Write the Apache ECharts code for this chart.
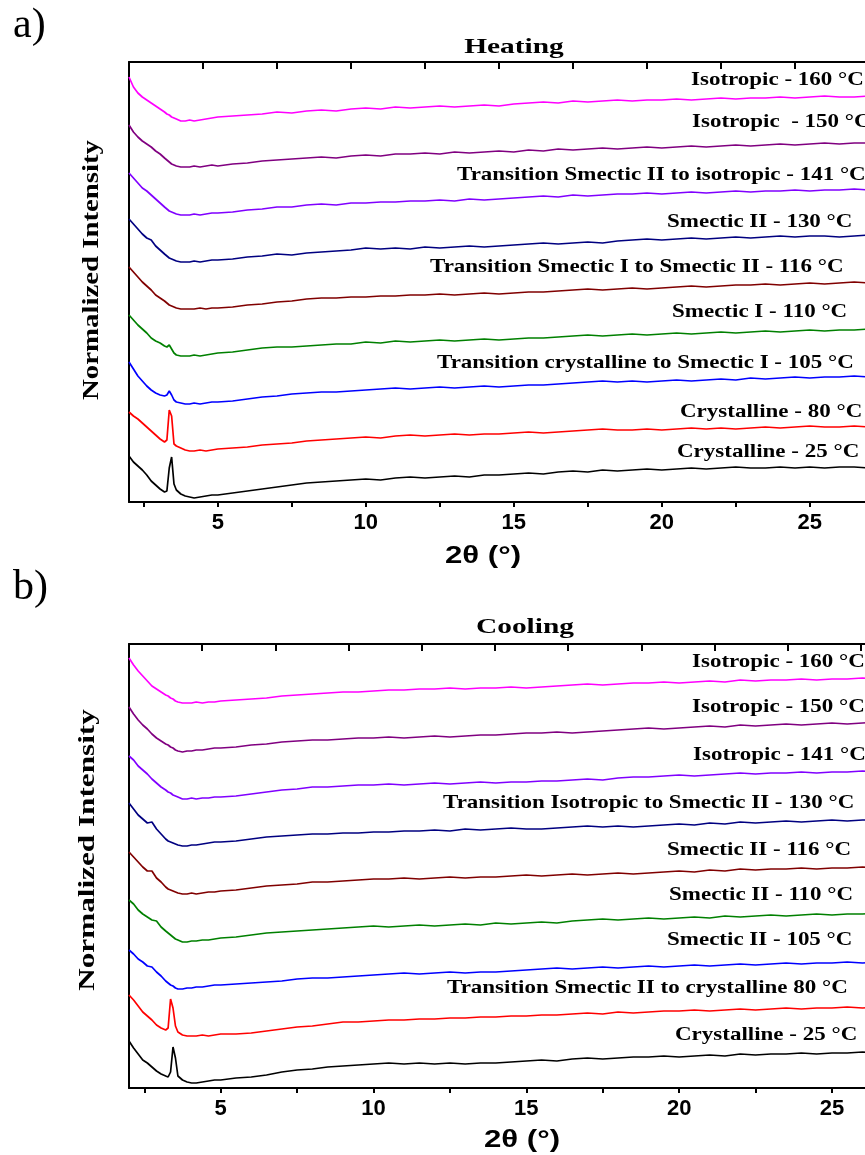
<!DOCTYPE html>
<html>
<head>
<meta charset="utf-8">
<script src="https://cdn.jsdelivr.net/npm/echarts@6/dist/echarts.min.js"></script>
<style>
html,body{margin:0;padding:0;background:#fff;overflow:hidden;width:865px;height:1155px;}
#chart{width:1000px;height:1155px;}
</style>
</head>
<body>
<div id="chart"></div>
<script>
// 2θ positions (°) shared by all patterns
const xs = [2.0,2.15,2.3,2.45,2.6,2.75,2.9,3.05,3.2,3.28,3.36,3.44,3.52,3.6,3.75,3.9,4.05,4.2,4.4,4.6,4.8,5.0,
  5.5,6,6.5,7,7.5,8,8.5,9,9.5,10,10.5,11,11.5,12,12.5,13,13.5,14,14.5,15,15.5,16,16.5,17,17.5,18,18.5,19,19.5,20,
  20.5,21,21.5,22,22.5,23,23.5,24,24.5,25,25.5,26,26.5,27,27.5];

// Heating: normalized intensity (stacked with offsets, arbitrary units)
const heat160 = [425,415,409,405,402,399,396,393,390,388,387,385,384,383,381,381,382,381,382,383,384,385,
  386,387,388,390,389,391,392,391,393,394,393,395,394,395,396,395,396,397,396,398,399,400,399,401,400,401,402,401,402,402,
  403,402,403,404,403,404,404,405,404,405,406,405,405,406,406];
const heat150 = [377,370,365,361,358,355,351,348,344,342,340,338,337,336,335,335,335,336,335,336,337,336,
  338,339,341,342,343,344,345,344,346,347,346,348,348,349,348,350,349,350,351,350,352,351,353,352,353,354,353,354,355,354,
  355,356,355,356,357,356,357,358,357,358,359,358,359,359,360];
const heat141 = [329,324,319,314,311,307,303,299,295,293,291,290,289,288,287,287,287,288,287,288,289,289,
  290,292,293,295,295,297,298,297,299,299,300,300,301,301,302,301,303,302,303,304,305,306,305,307,306,307,308,308,309,308,
  309,310,309,310,311,310,311,311,312,311,312,312,313,312,313];
const heat130 = [283,278,273,268,264,262,256,252,248,246,244,243,242,241,240,240,240,241,240,241,242,242,
  243,245,246,248,247,249,250,251,252,254,253,254,253,255,254,255,256,255,256,257,258,259,258,259,260,259,261,262,263,262,
  263,264,263,264,265,264,265,266,265,266,266,265,266,267,266];
const heat116 = [235,230,225,220,216,212,207,204,201,199,197,196,195,194,193,193,193,193,194,193,194,194,
  195,197,198,200,201,203,204,204,205,205,206,206,207,207,208,207,208,209,208,209,210,210,211,212,213,212,213,214,213,214,
  215,216,215,216,217,217,218,217,218,219,218,219,220,219,220];
const heat110 = [187,182,177,173,169,164,161,159,156,155,157,153,149,147,146,146,146,147,146,147,148,149,
  150,152,154,155,155,156,157,158,158,160,159,161,160,161,162,161,162,163,162,163,164,164,165,166,167,166,167,168,167,168,
  169,168,169,170,169,170,171,170,171,172,171,172,172,173,172];
const heat105 = [140,133,126,121,116,112,109,107,106,107,111,107,102,100,99,98,98,99,98,99,100,100,
  101,103,105,106,108,109,110,110,111,112,113,114,113,114,115,114,115,116,115,116,117,117,118,119,120,121,120,121,120,121,
  122,121,122,123,122,124,123,124,125,124,125,125,126,125,126];
const heat80 = [90,86,83,79,75,71,67,63,60,62,92,86,58,56,54,52,51,51,52,51,52,53,
  54,55,57,58,59,61,62,63,64,65,64,66,67,66,67,68,67,68,68,69,70,69,70,71,72,73,72,72,73,72,
  73,74,73,74,73,74,75,74,75,76,75,75,76,75,76];
const heat25 = [46,40,36,32,27,21,17,13,10,11,34,45,18,12,8,6,5,4,5,6,7,7,
  9,11,13,15,17,19,20,21,22,23,22,24,25,24,25,26,25,27,27,28,29,28,30,31,30,32,31,32,33,32,
  33,34,33,34,35,34,34,35,34,35,34,35,35,34,35];

// Cooling
const cool160 = [430,423,417,412,407,402,399,396,393,392,390,389,387,386,385,385,385,386,385,386,386,387,
  388,389,390,392,393,394,395,396,396,397,398,398,399,399,400,399,400,400,401,400,401,402,403,404,403,404,405,405,406,405,
  406,407,406,408,407,408,408,409,408,409,409,410,409,410,410];
const cool150 = [381,374,368,363,359,354,350,347,344,343,341,340,338,337,336,337,337,338,338,339,340,340,
  341,343,344,346,347,348,348,349,350,350,351,350,351,352,351,352,353,353,354,355,355,356,355,356,357,358,359,360,359,360,
  361,362,361,363,362,363,364,363,364,365,364,365,366,365,366];
const cool141 = [332,328,322,318,314,309,305,301,298,296,295,293,292,291,289,289,290,289,290,290,291,291,
  292,294,296,298,299,301,301,302,303,303,304,303,304,305,304,305,306,305,306,306,307,307,308,309,308,310,311,311,312,313,
  312,313,314,315,314,315,315,316,315,316,316,317,316,317,317];
const cool130 = [285,279,273,269,265,266,259,254,249,247,246,245,244,243,242,242,243,243,244,245,246,246,
  247,249,251,252,253,254,254,255,255,256,256,257,257,258,257,259,258,259,260,259,259,260,261,262,261,262,261,262,263,264,
  263,265,264,266,265,266,267,266,267,268,267,268,268,269,268];
const cool116 = [236,231,226,221,217,217,210,206,201,199,198,197,196,195,194,194,195,194,195,196,196,197,
  198,200,202,203,204,206,206,207,208,209,209,210,209,210,211,210,211,211,212,213,212,213,214,213,214,215,214,215,216,217,
  216,218,217,219,218,219,219,220,219,220,220,221,220,221,221];
const cool110 = [188,184,178,174,171,168,167,161,157,155,153,151,149,148,146,146,147,147,148,148,149,150,
  151,153,155,156,157,158,159,160,161,162,161,162,163,162,163,164,163,165,164,165,166,165,167,168,169,168,169,170,169,170,
  171,170,172,171,172,173,172,173,174,173,174,174,175,174,175];
const cool105 = [138,134,129,126,122,121,116,112,107,105,103,102,100,99,99,100,100,101,101,102,103,103,
  104,105,106,107,109,110,110,111,112,113,114,115,114,115,116,115,116,116,117,118,119,120,119,120,121,120,121,122,121,122,
  123,122,123,124,123,124,125,124,125,125,126,125,126,126,127];
const cool80 = [93,88,82,76,72,68,63,60,58,60,89,80,62,56,53,52,52,52,53,52,53,54,
  54,55,57,59,61,62,64,66,66,67,68,68,69,69,70,70,71,71,72,72,73,73,74,75,74,76,75,76,77,77,
  78,77,78,79,78,79,80,79,80,80,81,80,81,80,81];
const cool25 = [47,40,34,28,25,21,17,14,12,11,16,41,30,12,8,6,5,5,6,7,8,8,
  10,11,13,16,18,19,21,22,23,24,25,24,25,24,25,24,25,25,26,27,28,27,29,30,29,30,31,31,32,31,
  32,33,32,34,33,34,34,35,34,35,35,36,35,36,36];

const heatingLabels = ['Isotropic - 160 °C','Isotropic  - 150 °C','Transition Smectic II to isotropic - 141 °C',
  'Smectic II - 130 °C','Transition Smectic I to Smectic II - 116 °C','Smectic I - 110 °C',
  'Transition crystalline to Smectic I - 105 °C','Crystalline - 80 °C','Crystalline - 25 °C'];
const coolingLabels = ['Isotropic - 160 °C','Isotropic - 150 °C','Isotropic - 141 °C',
  'Transition Isotropic to Smectic II - 130 °C','Smectic II - 116 °C','Smectic II - 110 °C',
  'Smectic II - 105 °C','Transition Smectic II to crystalline 80 °C','Crystalline - 25 °C'];
const colors = ['#ff00ff','#800080','#8000ff','#000080','#800000','#008000','#0000ff','#ff0000','#000000'];

const bottomTicks = [2.5,5,7.5,10,12.5,15,17.5,20,22.5,25,27.5,30];
const bottomLabels = [5,10,15,20,25,30];
const topTicks = [4.5,7,9.5,12,14.5,17,19.5,22,24.5,27,29.5];

const heating = [heat160,heat150,heat141,heat130,heat116,heat110,heat105,heat80,heat25];
const cooling = [cool160,cool150,cool141,cool130,cool116,cool110,cool105,cool80,cool25];

// ---- layout (pixels) ----
const layout = {
  grids: [{left:129, top:62, width:828.8, height:440},{left:129, top:644, width:865.2, height:444}],
  yMax: [440, 444],
  topMax: [30, 2 + 865.2/29.6],
  heatLabelPos: [[691,80],[692,122],[457,175],[667,222],[430,267],[672,312],[437,363],[680,412],[677,452]],
  coolLabelPos: [[692,662],[692,707],[693,755],[443,803],[667,850],[669,895],[667,940],[447,988],[675,1035]]
};

const chart = echarts.init(document.getElementById('chart'), null, {renderer:'canvas'});
const axisLine = {show:true, onZero:false, lineStyle:{color:'#000', width:2}};
const xAxes = [], yAxes = [];
for (let g = 0; g < 2; g++) {
  xAxes.push({gridIndex:g, type:'value', position:'bottom', min:2, max:30,
    axisLine, axisTick:{show:true, customValues:bottomTicks, length:5, lineStyle:{color:'#000', width:2}},
    axisLabel:{show:true, customValues:bottomLabels, color:'#000', fontSize:22, fontWeight:'bold', fontFamily:'Liberation Sans', margin:10},
    splitLine:{show:false}});
  xAxes.push({gridIndex:g, type:'value', position:'top', min:2, max:layout.topMax[g],
    axisLine, axisTick:{show:true, inside:true, customValues:topTicks, length:7, lineStyle:{color:'#000', width:2}},
    axisLabel:{show:false}, splitLine:{show:false}});
  yAxes.push({gridIndex:g, type:'value', min:0, max:layout.yMax[g],
    axisLine, axisTick:{show:false}, axisLabel:{show:false}, splitLine:{show:false}});
}
const series = [];
[heating, cooling].forEach((set, g) => {
  set.forEach((arr, i) => {
    series.push({type:'line', xAxisIndex:g*2, yAxisIndex:g, showSymbol:false, symbol:'none', silent:true,
      lineStyle:{color:colors[i], width:1.7}, data: xs.map((x, k) => [x, arr[k]])});
  });
});

const serif = 'Liberation Serif';
function txt(x, y, text, size, opts) {
  opts = opts || {};
  return {type:'text', x:x, y:y, rotation:opts.rotation||0, scaleX:opts.scaleX||1, silent:true,
    style:{text:text, fill:'#000', font:(opts.weight||'bold') + ' ' + size + 'px "' + (opts.family||serif) + '"',
      textAlign:opts.align||'left', textVerticalAlign:'middle', align:opts.align||'left', verticalAlign:'middle'}};
}
const graphics = [];
heatingLabels.forEach((t, i) => graphics.push(txt(layout.heatLabelPos[i][0], layout.heatLabelPos[i][1], t, 19, {scaleX:1.21})));
coolingLabels.forEach((t, i) => graphics.push(txt(layout.coolLabelPos[i][0], layout.coolLabelPos[i][1], t, 19, {scaleX:1.21})));
graphics.push(txt(514, 48, 'Heating', 21, {align:'center', scaleX:1.4}));
graphics.push(txt(525, 628, 'Cooling', 21, {align:'center', scaleX:1.4}));
graphics.push(txt(13, 26, 'a)', 42, {weight:'normal'}));
graphics.push(txt(13, 588, 'b)', 42, {weight:'normal'}));
graphics.push(txt(92, 270, 'Normalized Intensity', 24, {align:'center', rotation:Math.PI/2, scaleX:1.2}));
graphics.push(txt(88, 850, 'Normalized Intensity', 24, {align:'center', rotation:Math.PI/2, scaleX:1.3}));
graphics.push(txt(483, 556, '2θ (°)', 24, {align:'center', scaleX:1.3, family:'Liberation Sans'}));
graphics.push(txt(522, 1140, '2θ (°)', 24, {align:'center', scaleX:1.3, family:'Liberation Sans'}));

chart.setOption({
  animation:false,
  backgroundColor:'#fff',
  grid: layout.grids,
  xAxis: xAxes,
  yAxis: yAxes,
  series: series,
  graphic: {elements: graphics}
});
</script>
</body>
</html>
